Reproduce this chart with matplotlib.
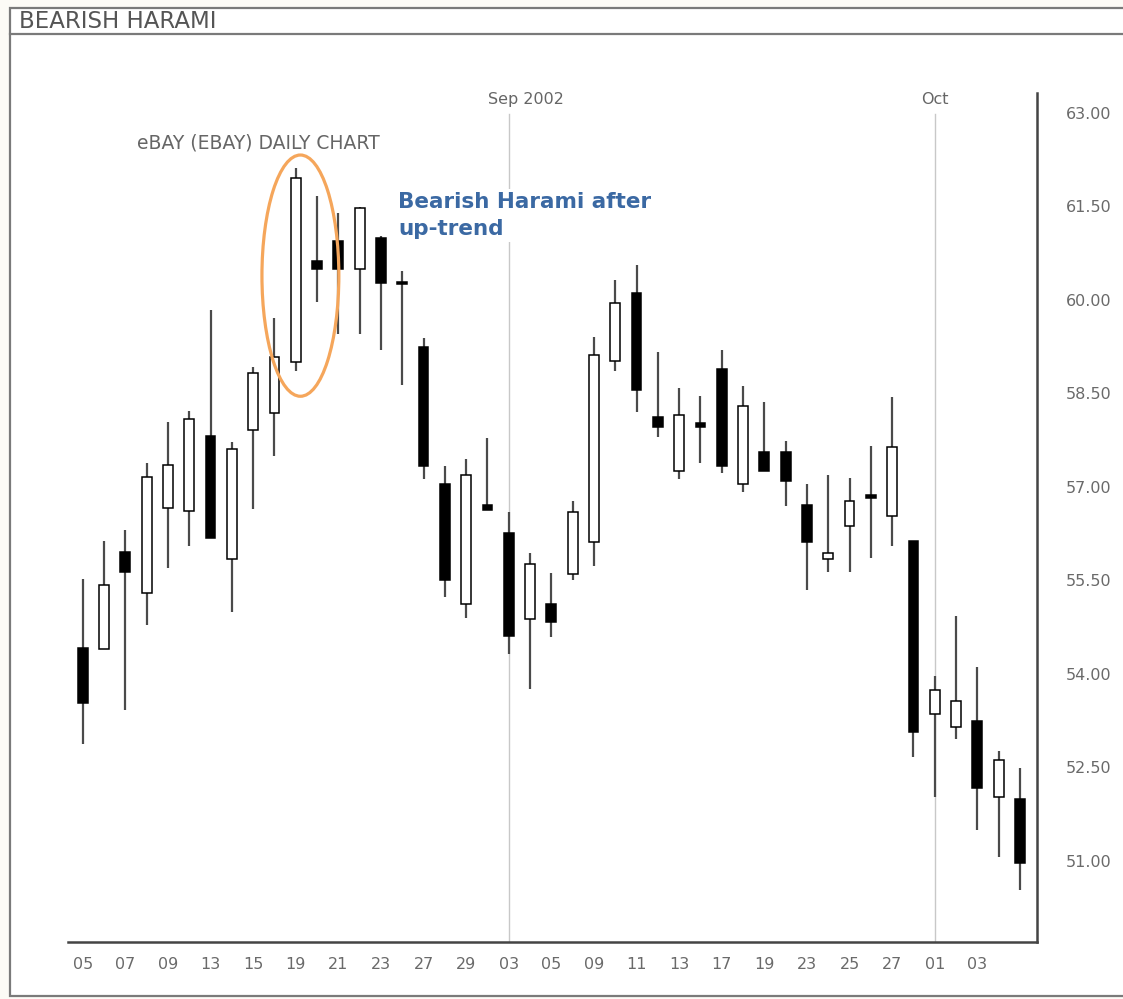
import matplotlib
matplotlib.use("Agg")
from matplotlib import pyplot as plt
from matplotlib.patches import Ellipse, Rectangle
from matplotlib.lines import Line2D
import numpy as np

# eBay daily prices, Aug 5 - Oct 7 2002
days = ["05", "06", "07", "08", "09", "12", "13", "14", "15", "16",
        "19", "20", "21", "22", "23", "26", "27", "28", "29", "30",
        "03", "04", "05", "06", "09", "10", "11", "12", "13", "16",
        "17", "18", "19", "20", "23", "24", "25", "26", "27", "30",
        "01", "02", "03", "04", "07"]
opens = [54.42, 54.40, 55.96, 55.30, 56.66, 56.61, 57.82, 55.84, 57.91, 58.19,
         59.01, 60.63, 60.95, 60.50, 60.99, 60.28, 59.25, 57.05, 55.12, 56.71,
         56.26, 54.88, 55.12, 55.60, 56.12, 59.02, 60.11, 58.12, 57.26, 58.03,
         58.89, 57.05, 57.56, 57.56, 56.71, 55.84, 56.37, 56.87, 56.53, 56.13,
         53.36, 53.15, 53.25, 52.03, 51.99]
highs = [55.52, 56.13, 56.31, 57.39, 58.04, 58.22, 59.84, 57.72, 58.93, 59.71,
         62.12, 61.67, 61.40, 61.49, 61.03, 60.47, 59.39, 57.34, 57.45, 57.79,
         56.60, 55.94, 55.62, 56.78, 59.41, 60.32, 60.56, 59.17, 58.59, 58.46,
         59.20, 58.62, 58.36, 57.74, 57.05, 57.19, 57.14, 57.66, 58.44, 56.13,
         53.97, 54.93, 54.11, 52.76, 52.49]
lows = [52.88, 54.40, 53.42, 54.79, 55.70, 56.05, 56.18, 55.00, 56.65, 57.50,
        58.86, 59.97, 59.45, 59.45, 59.20, 58.64, 57.13, 55.24, 54.90, 56.63,
        54.32, 53.76, 54.59, 55.51, 55.73, 58.86, 58.20, 57.80, 57.13, 57.39,
        57.22, 56.92, 57.26, 56.70, 55.35, 55.64, 55.64, 55.86, 56.05, 52.67,
        52.03, 52.96, 51.50, 51.06, 50.53]
closes = [53.53, 55.43, 55.64, 57.16, 57.35, 58.09, 56.18, 57.61, 58.83, 59.09,
          61.96, 60.50, 60.50, 61.48, 60.27, 60.26, 57.34, 55.51, 57.19, 56.63,
          54.61, 55.76, 54.83, 56.60, 59.12, 59.95, 58.56, 57.96, 58.16, 57.96,
          57.34, 58.30, 57.26, 57.10, 56.12, 55.94, 56.78, 56.82, 57.64, 53.07,
          53.74, 53.57, 52.17, 52.62, 50.97]
price_ticks = [51.0, 52.5, 54.0, 55.5, 57.0, 58.5, 60.0, 61.5, 63.0]

W, H = 1123, 999
fig = plt.figure(figsize=(W / 100, H / 100), dpi=100)
fig.patch.set_facecolor("#fcfbf6")


def fx(px):
    return px / W


def fy(py):
    return 1 - py / H


# outer frame with title strip
frame_col = "#7a7a7a"
fig.add_artist(Rectangle((fx(10), fy(996)), fx(1130) - fx(10), fy(8) - fy(996),
                         transform=fig.transFigure, facecolor="white",
                         edgecolor=frame_col, lw=1.6, zorder=0))
fig.add_artist(Line2D([fx(10), fx(1130)], [fy(34), fy(34)],
                      transform=fig.transFigure, color=frame_col, lw=1.6))
fig.text(fx(19), fy(21), "BEARISH HARAMI", fontsize=16.5, color="#555555",
         ha="left", va="center")

ax = fig.add_axes([fx(68), fy(942), fx(1037) - fx(68), fy(93) - fy(942)])
ax.set_facecolor("none")

x = np.arange(len(days))
o = np.array(opens)
c = np.array(closes)
up = c >= o

# wicks
ax.vlines(x, lows, highs, color="#4a4a4a", lw=1.6, zorder=2)
# bodies
body_h = np.maximum(np.abs(c - o), 0.02)
body_b = np.minimum(o, c)
ax.bar(x, body_h, bottom=body_b, width=0.46,
       color=np.where(up, "white", "black"), edgecolor="black",
       lw=1.1, zorder=3)

ax.set_xlim(-0.69, 44.8)
ax.set_ylim(49.70, 63.32)

# month separators
for idx in (20, 40):
    ax.axvline(idx, ymin=0, ymax=0.975, color="#c8c8c8", lw=1.0, zorder=1)
ax.text(20.8, 63.22, "Sep 2002", fontsize=11.5, color="#666666",
        ha="center", va="center")
ax.text(40.0, 63.22, "Oct", fontsize=11.5, color="#666666",
        ha="center", va="center")

ax.text(2.55, 62.52, "eBAY (EBAY) DAILY CHART", fontsize=13.5, color="#666666",
        ha="left", va="center")
ax.text(14.8, 61.36, "Bearish Harami after\nup-trend", fontsize=15.5,
        fontweight="bold", color="#3b69a3", ha="left", va="center",
        linespacing=1.45, zorder=4,
        bbox=dict(facecolor="white", edgecolor="none", pad=2))

ax.add_patch(Ellipse((10.22, 60.39), 3.61, 3.87, fill=False,
                     edgecolor="#f5a65b", lw=2.3, zorder=5))

ax.spines["top"].set_visible(False)
ax.spines["left"].set_visible(False)
for side in ("bottom", "right"):
    ax.spines[side].set_color("#444444")
    ax.spines[side].set_linewidth(1.8)

ax.set_xticks(x[:44:2])
ax.set_xticklabels(days[:44:2])
ax.yaxis.tick_right()
ax.set_yticks(price_ticks)
ax.set_yticklabels([f"{p:.2f}" for p in price_ticks])
ax.tick_params(axis="both", length=0, labelsize=11.5, colors="#6a6a6a")
ax.tick_params(axis="x", pad=11)
ax.tick_params(axis="y", pad=21)

fig.savefig("out.png", dpi=100, facecolor=fig.get_facecolor())
